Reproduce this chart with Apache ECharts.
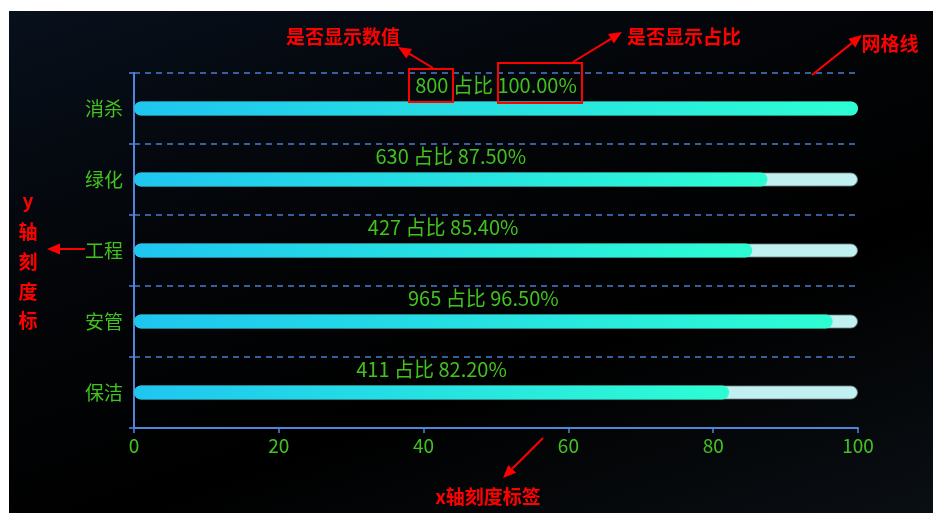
<!DOCTYPE html>
<html><head><meta charset="utf-8">
<script src="https://cdn.jsdelivr.net/npm/echarts@6/dist/echarts.min.js"></script>
<style>
html,body{margin:0;padding:0;background:#fff;}
#wrap{position:relative;width:933px;height:513px;overflow:hidden;}
#bg{position:absolute;left:9px;top:11px;right:0;bottom:0;background:linear-gradient(160deg,#08101c 0%,#030508 35%,#000 65%,#0a0f14 100%);}
#chart{position:absolute;left:0;top:0;width:933px;height:513px;}
</style></head><body>
<div id="wrap"><div id="bg"></div><div id="chart"></div></div>
<script>
// ---- data ----
const categories = ['消杀', '绿化', '工程', '安管', '保洁'];
const values = [800, 630, 427, 965, 411];
const percents = [100, 87.5, 85.4, 96.5, 82.2];
const fullScale = [100, 100, 100, 100, 100];
const xMin = 0, xMax = 100, xInterval = 20;

// ---- annotations (red notes on the screenshot) ----
const notes = [
  { text: '是否显示数值', x: 343, y: 37 },
  { text: '是否显示占比', x: 684, y: 37 },
  { text: '网格线', x: 890, y: 44 },
  { text: 'x轴刻度标签', x: 488, y: 497 }
];
const vNote = { chars: ['y', '轴', '刻', '度', '标'], x: 28, ys: [201, 232, 262, 292, 321] };

const green = '#42c21f';
const axisBlue = '#4f86d9';
const font = '"Microsoft YaHei","Noto Sans CJK SC",sans-serif';

function arrow(x1, y1, x2, y2) {
  const dx = x2 - x1, dy = y2 - y1, L = Math.hypot(dx, dy);
  const ux = dx / L, uy = dy / L, nx = -uy, ny = ux;
  const hl = 13, hw = 5.5;
  const bx = x2 - ux * hl, by = y2 - uy * hl;
  return [
    { type: 'line', shape: { x1, y1, x2: bx, y2: by }, style: { stroke: '#ff0000', lineWidth: 2 }, z: 100 },
    { type: 'polygon', shape: { points: [[x2, y2], [bx + nx * hw, by + ny * hw], [bx - nx * hw, by - ny * hw]] }, style: { fill: '#ff0000' }, z: 100 }
  ];
}

const graphics = [];
notes.forEach(n => graphics.push({
  type: 'text', x: n.x, y: n.y, z: 100,
  style: { text: n.text, fill: '#ff0000', font: 'bold 19px ' + font, textAlign: 'center', textVerticalAlign: 'middle' }
}));
vNote.chars.forEach((c, i) => graphics.push({
  type: 'text', x: vNote.x, y: vNote.ys[i], z: 100,
  style: { text: c, fill: '#ff0000', font: 'bold 19px ' + font, textAlign: 'center', textVerticalAlign: 'middle' }
}));
graphics.push({ type: 'rect', shape: { x: 409, y: 69, width: 44, height: 33 }, style: { fill: 'none', stroke: '#ff0000', lineWidth: 2 }, z: 100 });
graphics.push({ type: 'rect', shape: { x: 498, y: 63, width: 84, height: 40 }, style: { fill: 'none', stroke: '#ff0000', lineWidth: 2 }, z: 100 });
graphics.push(...arrow(433, 68, 398, 47));
graphics.push(...arrow(573, 62, 622, 32));
graphics.push(...arrow(812, 75, 862, 35));
graphics.push(...arrow(85, 249, 47, 249));
graphics.push(...arrow(543, 438, 503, 478));

const chart = echarts.init(document.getElementById('chart'));
chart.setOption({
  backgroundColor: 'transparent',
  animation: false,
  grid: { left: 134, right: 75, top: 73, bottom: 85, containLabel: false },
  xAxis: {
    type: 'value', min: xMin, max: xMax, interval: xInterval,
    axisLine: { show: true, lineStyle: { color: axisBlue, width: 2 } },
    axisTick: { show: true, length: 5, lineStyle: { color: axisBlue, width: 1.5 } },
    axisLabel: { color: green, fontSize: 19, fontFamily: font, margin: 8 },
    splitLine: { show: false }
  },
  yAxis: {
    type: 'category', data: categories, inverse: true,
    axisLine: { show: true, lineStyle: { color: axisBlue, width: 2 } },
    axisTick: { show: true, length: 5, lineStyle: { color: axisBlue, width: 1.5 } },
    axisLabel: { color: green, fontSize: 19, fontFamily: font, margin: 11 },
    splitLine: { show: true, lineStyle: { color: '#4a7ed0', width: 1.5, type: [6, 5] } }
  },
  series: [
    {
      type: 'bar', data: fullScale, barWidth: 14, barGap: '-100%', silent: true,
      itemStyle: { color: '#c0f0ef', borderRadius: 7, borderColor: 'rgba(110,130,130,0.8)', borderWidth: 1 },
      z: 1
    },
    {
      type: 'bar', data: percents, barWidth: 14,
      itemStyle: {
        borderRadius: 7,
        color: new echarts.graphic.LinearGradient(0, 0, 1, 0, [
          { offset: 0, color: '#1ec6f0' },
          { offset: 1, color: '#2dfdd3' }
        ])
      },
      label: {
        show: true, position: 'top', distance: 6,
        color: green, fontSize: 20, fontFamily: font,
        formatter: p => values[p.dataIndex] + ' 占比 ' + percents[p.dataIndex].toFixed(2) + '%'
      },
      z: 2
    }
  ],
  graphic: graphics
});
</script>
</body></html>
